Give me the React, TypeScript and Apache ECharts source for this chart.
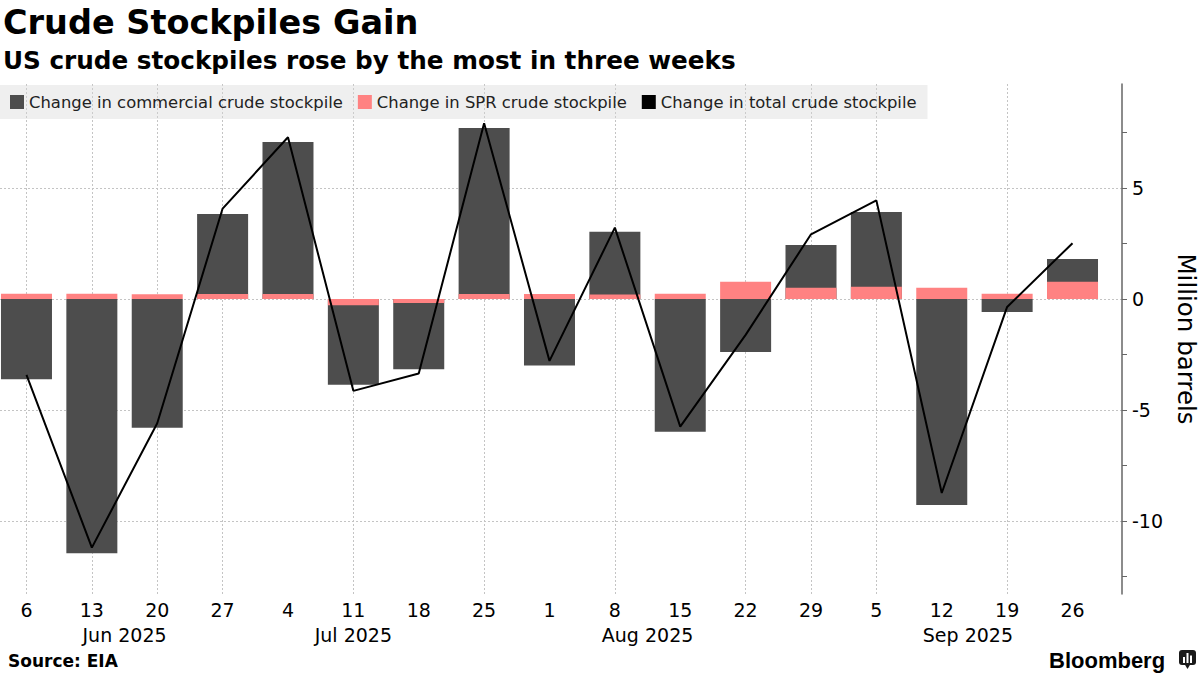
import React, { useEffect, useRef } from "react";
import * as echarts from "echarts";

const dayLabels = ["6", "13", "20", "27", "4", "11", "18", "25", "1", "8", "15", "22", "29", "5", "12", "19", "26"];
const monthLabels = ["Jun 2025", "Jul 2025", "Aug 2025", "Sep 2025"];
const monthLabelPos = [1.5, 5, 9.5, 14.4];
const commercial = [-3.62, -11.45, -5.8, 3.83, 7.07, -3.86, -3.17, 7.7, -3.0, 3.02, -5.98, -2.39, 2.43, 3.92, -9.28, -0.59, 1.8];
const spr = [0.23, 0.23, 0.21, 0.22, 0.22, -0.28, -0.18, 0.22, 0.22, 0.2, 0.23, 0.77, 0.5, 0.55, 0.5, 0.23, 0.77];
const total = [-3.42, -11.2, -5.6, 4.07, 7.28, -4.14, -3.36, 7.91, -2.79, 3.21, -5.75, -1.62, 2.91, 4.44, -8.74, -0.36, 2.51];
const yTickValues = [-12.5, -10, -7.5, -5, -2.5, 0, 2.5, 5, 7.5];
const yLabelValues = [-10, -5, 0, 5];
const xGridIdx = [0, 1, 2, 3, 5, 7, 9, 11, 12, 13, 15];
const dayIdx = dayLabels.map((_, i) => i);

const seriesNames = [
  "Change in commercial crude stockpile",
  "Change in SPR crude stockpile",
  "Change in total crude stockpile",
];

const FONT = "DejaVu Sans";
const X_MIN = -0.405;
const X_MAX = 16.757;
const Y_MIN = -13.29;
const Y_MAX = 9.68;
const gridLine = { show: true, lineStyle: { color: "#c4c4c4", type: [2, 2] as any, width: 1 } };

export default function App() {
  const ref = useRef<HTMLDivElement>(null);
  useEffect(() => {
    if (!ref.current) return;
    const chart = echarts.init(ref.current, undefined, { renderer: "svg" });
    const option: any = {
      animation: false,
      backgroundColor: "#fff",
      textStyle: { fontFamily: FONT },
      grid: { left: 0, right: 78, top: 84, bottom: 81, containLabel: false, outerBoundsMode: "none" },
      legend: {
        left: 0,
        top: 85,
        padding: [9, 11, 9, 10],
        itemGap: 15,
        itemWidth: 14,
        itemHeight: 14,
        backgroundColor: "rgba(215,215,215,0.4)",
        textStyle: { fontFamily: FONT, fontSize: 16.4, color: "#222" },
        data: seriesNames.map((n) => ({ name: n, icon: "rect" })),
      },
      xAxis: [
        {
          type: "value",
          min: X_MIN,
          max: X_MAX,
          axisLine: { show: false, onZero: false },
          axisTick: { show: false, customValues: xGridIdx },
          splitLine: gridLine,
          axisLabel: {
            customValues: dayIdx,
            formatter: (v: number) => dayLabels[Math.round(v)] ?? "",
            fontSize: 19,
            color: "#000",
            margin: 6,
            fontFamily: FONT,
          },
        },
        {
          type: "value",
          min: X_MIN,
          max: X_MAX,
          position: "bottom",
          axisLine: { show: false, onZero: false },
          axisTick: { show: false },
          splitLine: { show: false },
          axisLabel: {
            customValues: monthLabelPos,
            formatter: (v: number) => {
              let best = 0;
              monthLabelPos.forEach((p, i) => {
                if (Math.abs(p - v) < Math.abs(monthLabelPos[best] - v)) best = i;
              });
              return monthLabels[best];
            },
            fontSize: 19,
            color: "#000",
            margin: 31,
            fontFamily: FONT,
          },
        },
      ],
      yAxis: [
        {
          type: "value",
          position: "right",
          min: Y_MIN,
          max: Y_MAX,
          axisLine: { show: true, onZero: false, lineStyle: { color: "#666", width: 1.5 } },
          axisTick: { show: true, length: 5, customValues: yTickValues, lineStyle: { color: "#666" } },
          splitLine: { show: false },
          axisLabel: {
            customValues: yLabelValues,
            fontSize: 19,
            color: "#000",
            margin: 10,
            fontFamily: FONT,
          },
          name: "Million barrels",
          nameLocation: "middle",
          nameRotate: -90,
          nameGap: 49,
          nameTextStyle: { fontSize: 24.5, color: "#000", fontFamily: FONT },
        },
        {
          type: "value",
          position: "left",
          min: Y_MIN,
          max: Y_MAX,
          axisLine: { show: false, onZero: false },
          axisTick: { show: false, customValues: yLabelValues },
          axisLabel: { show: false },
          splitLine: gridLine,
        },
      ],
      series: [
        {
          name: seriesNames[0],
          type: "bar",
          xAxisIndex: 0,
          yAxisIndex: 0,
          barWidth: 51,
          barGap: "-100%",
          color: "#4d4d4d",
          data: commercial.map((v, i) => [i, v]),
        },
        {
          name: seriesNames[1],
          type: "bar",
          xAxisIndex: 0,
          yAxisIndex: 0,
          barWidth: 51,
          barGap: "-100%",
          color: "#ff8282",
          data: spr.map((v, i) => [i, v]),
        },
        {
          name: seriesNames[2],
          type: "line",
          xAxisIndex: 0,
          yAxisIndex: 0,
          color: "#000",
          symbol: "none",
          lineStyle: { color: "#000", width: 2 },
          z: 5,
          data: total.map((v, i) => [i, v]),
        },
      ],
      graphic: [
        {
          type: "text",
          x: 3,
          y: 22,
          style: { text: "Crude Stockpiles Gain", fontSize: 33.5, fontWeight: "bold", fontFamily: FONT, fill: "#000", verticalAlign: "middle" },
        },
        {
          type: "text",
          x: 3,
          y: 60,
          style: { text: "US crude stockpiles rose by the most in three weeks", fontSize: 24.7, fontWeight: "bold", fontFamily: FONT, fill: "#000", verticalAlign: "middle" },
        },
        {
          type: "text",
          x: 8,
          y: 661,
          style: { text: "Source: EIA", fontSize: 17, fontWeight: "bold", fontFamily: FONT, fill: "#000", verticalAlign: "middle" },
        },
        {
          type: "text",
          x: 1049,
          y: 660,
          style: { text: "Bloomberg", fontSize: 22, fontWeight: "bold", fontFamily: "Liberation Sans", fill: "#000", verticalAlign: "middle" },
        },
        {
          type: "group",
          x: 1179,
          y: 650,
          children: [
            { type: "rect", shape: { x: 0, y: 0, width: 17, height: 15, r: 3 }, style: { fill: "#1a1a1a" } },
            { type: "polygon", shape: { points: [[5.5, 14], [11.5, 14], [8.5, 19]] }, style: { fill: "#1a1a1a" } },
            { type: "rect", shape: { x: 4, y: 7, width: 2, height: 6 }, style: { fill: "#fff" } },
            { type: "rect", shape: { x: 7.5, y: 3, width: 2, height: 10 }, style: { fill: "#fff" } },
            { type: "rect", shape: { x: 11, y: 5.5, width: 2, height: 7.5 }, style: { fill: "#fff" } },
          ],
        },
      ],
    };
    chart.setOption(option);
    return () => chart.dispose();
  }, []);
  return (
    <div
      ref={ref}
      style={{ position: "fixed", left: 0, top: 0, width: 1200, height: 675, background: "#fff" }}
    />
  );
}
